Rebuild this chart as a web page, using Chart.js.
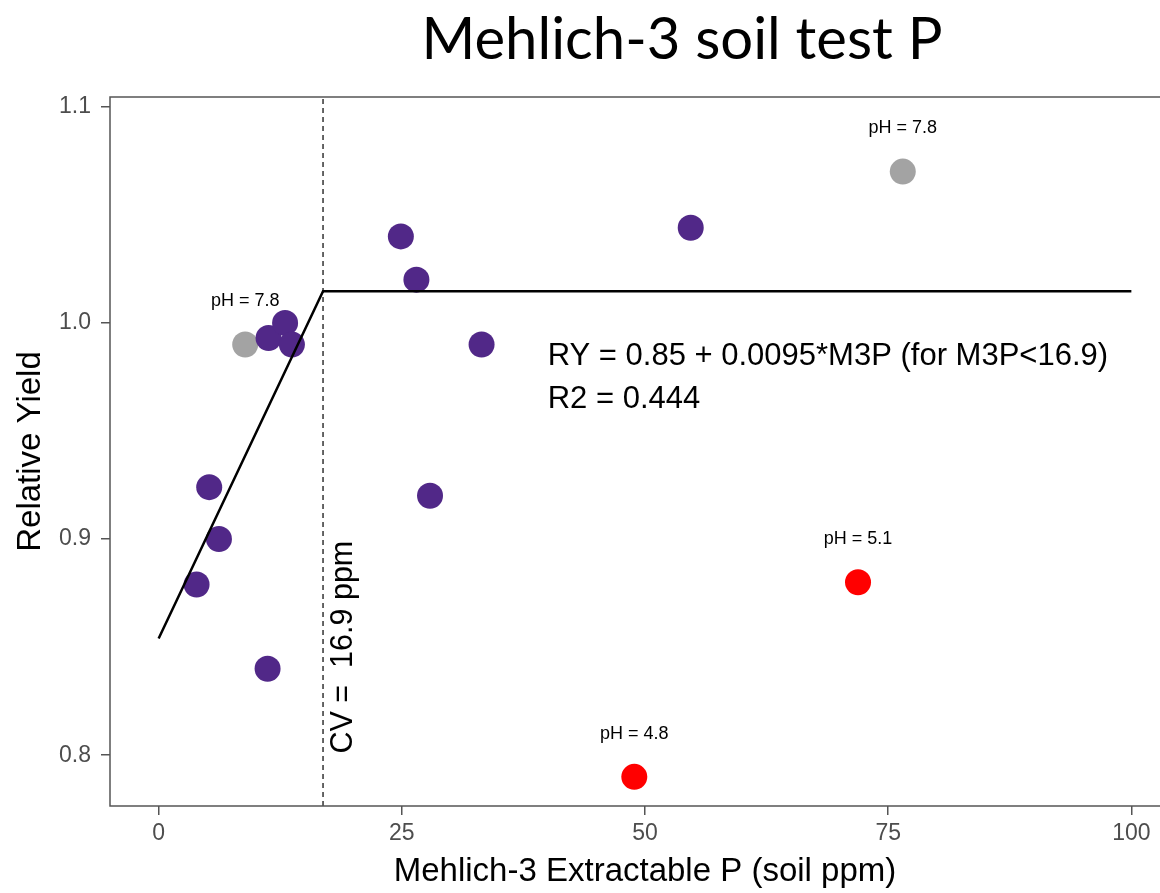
<!DOCTYPE html>
<html>
<head>
<meta charset="utf-8">
<title>Mehlich-3 soil test P</title>
<script src="https://cdn.jsdelivr.net/npm/chart.js@4.4.1/dist/chart.umd.min.js"></script>
<style>
  html, body { margin: 0; padding: 0; background: #fff; overflow: hidden; }
  #wrap { width: 1181px; height: 893px; }
</style>
</head>
<body>
<div id="wrap"><canvas id="graph" width="1181" height="893"></canvas></div>
<script>
// soil test P (ppm) vs relative yield, split by site group
const purpleX = [3.9, 5.2, 6.2, 11.2, 11.3, 13.0, 13.7, 24.9, 26.5, 27.9, 33.2, 54.7];
const purpleY = [0.879, 0.924, 0.900, 0.840, 0.993, 1.000, 0.990, 1.040, 1.020, 0.920, 0.990, 1.044];

// high pH sites (7.8)
const greyX = [8.9, 76.5];
const greyY = [0.990, 1.070];

// low pH sites
const redX = [48.9, 71.9];
const redY = [0.790, 0.880];

// linear-plateau fit, critical value at 16.9 ppm
const fitX = [0, 16.9, 100];
const fitY = [0.854, 1.0146, 1.0146];
const cvValue = 16.9;

// pH notes, drawn a little above each point
const noteX = [8.9, 76.5, 71.9, 48.9];
const noteY = [0.990, 1.070, 0.880, 0.790];
const noteText = ['pH = 7.8', 'pH = 7.8', 'pH = 5.1', 'pH = 4.8'];

const xTicks = [0, 25, 50, 75, 100];
const yTicks = [0.8, 0.9, 1.0, 1.1];
const xMin = -5, xMax = 105;
const yMin = 0.7765, yMax = 1.1045;

const eqLines = ['RY = 0.85 + 0.0095*M3P (for M3P<16.9)', 'R2 = 0.444'];

const purple = '#512888';
const axisGrey = '#555555';
const tickText = '#4d4d4d';
const sans = '"Liberation Sans", Arial, sans-serif';

function toPoints(xs, ys) {
    return xs.map((x, i) => ({x: x, y: ys[i]}));
}

// frame, title and text annotations
const annotations = {
    id: 'annotations',
    afterDatasetsDraw(chart) {
        const ctx = chart.ctx;
        const xs = chart.scales.x;
        const ys = chart.scales.y;
        const area = chart.chartArea;

        ctx.save();
        ctx.strokeStyle = axisGrey;
        ctx.lineWidth = 1.5;
        ctx.strokeRect(area.left, area.top, area.right - area.left, area.bottom - area.top);

        ctx.fillStyle = '#000';
        ctx.textAlign = 'center';
        ctx.textBaseline = 'middle';

        ctx.font = '18px ' + sans;
        for (let i = 0; i < noteText.length; i++) {
            ctx.fillText(noteText[i], xs.getPixelForValue(noteX[i]), ys.getPixelForValue(noteY[i] + 0.02));
        }

        ctx.font = '31px ' + sans;
        ctx.textAlign = 'left';
        ctx.fillText(eqLines[0], xs.getPixelForValue(40), ys.getPixelForValue(0.9845));
        ctx.fillText(eqLines[1], xs.getPixelForValue(40), ys.getPixelForValue(0.9645));

        // CV label runs up along the dashed line
        ctx.save();
        ctx.translate(xs.getPixelForValue(19), ys.getPixelForValue(0.85));
        ctx.rotate(-Math.PI / 2);
        ctx.textAlign = 'center';
        ctx.font = '30.5px ' + sans;
        ctx.fillText('CV =  ' + cvValue + ' ppm', 0, 0);
        ctx.restore();

        ctx.font = '58px Lato, "Open Sans", sans-serif';
        ctx.textAlign = 'center';
        ctx.fillText('Mehlich-3 soil test P', 682, 40);
        ctx.restore();
    }
};

const graph = document.getElementById('graph');

new Chart(graph, {
    type: 'scatter',
    data: {
        datasets: [
            {
                label: 'fit',
                data: toPoints(fitX, fitY),
                showLine: true,
                borderColor: '#000',
                borderWidth: 2.5,
                pointRadius: 0,
                fill: false
            },
            {
                label: 'CV',
                data: [{x: cvValue, y: yMin}, {x: cvValue, y: yMax}],
                showLine: true,
                borderColor: '#000',
                borderWidth: 1.2,
                borderDash: [5, 4],
                pointRadius: 0,
                fill: false
            },
            {
                label: 'sites',
                data: toPoints(purpleX, purpleY),
                backgroundColor: purple,
                borderWidth: 0,
                pointRadius: 13
            },
            {
                label: 'low pH',
                data: toPoints(redX, redY),
                backgroundColor: '#ff0000',
                borderWidth: 0,
                pointRadius: 13
            },
            {
                label: 'high pH',
                data: toPoints(greyX, greyY),
                backgroundColor: '#a3a3a3',
                borderWidth: 0,
                pointRadius: 13
            }
        ]
    },
    options: {
        responsive: false,
        animation: false,
        // big points would otherwise push the panel edges inward
        layout: {autoPadding: false, padding: {top: 97, left: 0, right: 1, bottom: 0}},
        plugins: {
            legend: {display: false},
            tooltip: {enabled: false},
            title: {display: false}
        },
        scales: {
            x: {
                type: 'linear',
                min: xMin,
                max: xMax,
                afterBuildTicks: (scale) => { scale.ticks = xTicks.map(v => ({value: v})); },
                afterFit: (scale) => {
                    scale.height = 87;
                    scale.paddingLeft = 0;
                    scale.paddingRight = 0;
                },
                border: {display: false},
                grid: {drawOnChartArea: false, drawTicks: true, tickLength: 9, color: axisGrey, lineWidth: 1.5},
                ticks: {color: tickText, font: {family: sans, size: 23}, padding: 5, maxRotation: 0},
                title: {
                    display: true,
                    text: 'Mehlich-3 Extractable P (soil ppm)',
                    color: '#000',
                    font: {family: sans, size: 33},
                    padding: {top: 0, bottom: 1}
                }
            },
            y: {
                type: 'linear',
                min: yMin,
                max: yMax,
                afterBuildTicks: (scale) => { scale.ticks = yTicks.map(v => ({value: v})); },
                afterFit: (scale) => {
                    scale.width = 110;
                    scale.paddingTop = 0;
                    scale.paddingBottom = 0;
                },
                border: {display: false},
                grid: {drawOnChartArea: false, drawTicks: true, tickLength: 9, color: axisGrey, lineWidth: 1.5},
                ticks: {
                    color: tickText,
                    font: {family: sans, size: 23},
                    padding: 10,
                    callback: (v) => Number(v).toFixed(1)
                },
                title: {
                    display: true,
                    text: 'Relative Yield',
                    color: '#000',
                    font: {family: sans, size: 33},
                    padding: {top: 11, bottom: 0}
                }
            }
        }
    },
    plugins: [annotations]
});
</script>
</body>
</html>
